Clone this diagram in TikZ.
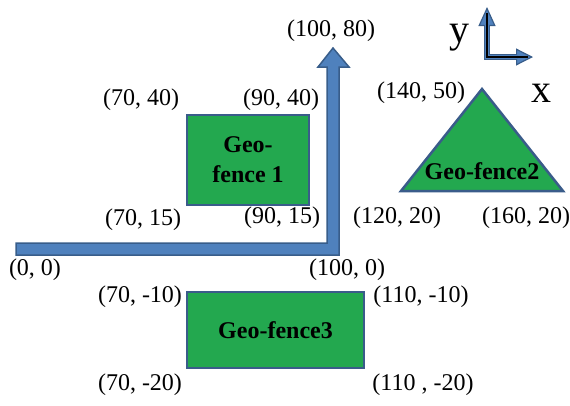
\documentclass[tikz,border=0pt]{standalone}
\usepackage{fontspec}
\setmainfont{Liberation Serif}
\usepackage{tikz}
\usetikzlibrary{positioning,arrows.meta,calc}
\definecolor{FenceGreen}{RGB}{35,168,79}
\definecolor{FenceEdge}{RGB}{58,92,138}
\definecolor{PathBlue}{RGB}{79,129,189}
\definecolor{PathEdge}{RGB}{56,93,138}

\begin{document}
\begin{tikzpicture}[x=1pt,y=-1pt,
  lbl/.style={font=\fontsize{24}{27}\selectfont,inner sep=0pt},
  fence/.style={draw=FenceEdge,line width=2.5pt,fill=FenceGreen,inner sep=0pt,
    font=\bfseries\fontsize{24}{30}\selectfont,align=center},
  axlbl/.style={font=\fontsize{40}{40}\selectfont,inner sep=0pt}]
\useasboundingbox (0,0) rectangle (570,405);
% route of the vehicle
\draw[PathEdge,line width=1.5pt,fill=PathBlue,line join=miter]
  (16,243) -- (327,243) -- (327,67) -- (318,67) -- (333,48) -- (349,67)
  -- (339,67) -- (339,255) -- (16,255) -- cycle;
% fences
\node[fence,minimum width=122pt,minimum height=90pt] (fenceA) at (248,160) {Geo-\\fence 1};
\node[fence,minimum width=177pt,minimum height=76pt] (fenceC) at (275.5,330) {Geo-fence3};
\draw[FenceEdge,line width=2.5pt,fill=FenceGreen,line join=miter]
  (482,89) coordinate (triTop) -- (563,191) coordinate (triRight) -- (401,191) coordinate (triLeft) -- cycle;
\node[fence,draw=none,fill=none] (fenceB) at (482,171) {Geo-fence2};
% corner labels
\node[lbl] (p100x80) at (331,31) {(100, 80)};
\node[lbl] (p70x40) at (141,100) {(70, 40)};
\node[lbl] (p90x40) at (281,100) {(90, 40)};
\node[lbl] (p140x50) at (421,93) {(140, 50)};
\node[lbl] (p70x15) at (143,220) {(70, 15)};
\node[lbl] (p90x15) at (282,218) {(90, 15)};
\node[lbl] (p120x20) at (397,218) {(120, 20)};
\node[lbl] (p160x20) at (526,218) {(160, 20)};
\node[lbl] (p0x0) at (35,270) {(0, 0)};
\node[lbl] (p100x0) at (347,270) {(100, 0)};
\node[lbl] (p70xm10) at (140,297) {(70, -10)};
\node[lbl] (p110xm10) at (421,297) {(110, -10)};
\node[lbl] (p70xm20) at (140,385) {(70, -20)};
\node[lbl] (p110xm20) at (423,385) {(110 , -20)};
% axes
\coordinate (axO) at (487,57);
\coordinate (axY) at (487,7);
\coordinate (axX) at (533,57);
\draw[PathEdge,line width=6.5pt,line join=miter,
  {Triangle[length=19pt,width=17pt,fill=PathBlue,line width=1.2pt]}-{Triangle[length=17pt,width=17pt,fill=PathBlue,line width=1.2pt]}]
  (axY) -- (axO) -- (axX);
\draw[PathBlue,line width=4pt,line join=miter] ($(axY)+(0,18)$) -- (axO) -- ($(axX)+(-16,0)$);
\draw[black,line width=1.6pt,line join=miter] (487,13) -- (axO) -- (528,57);
\node[axlbl,anchor=base] (ylbl) at (459,42) {y};
\node[axlbl,anchor=base] (xlbl) at (541,102) {x};
\end{tikzpicture}
\end{document}
